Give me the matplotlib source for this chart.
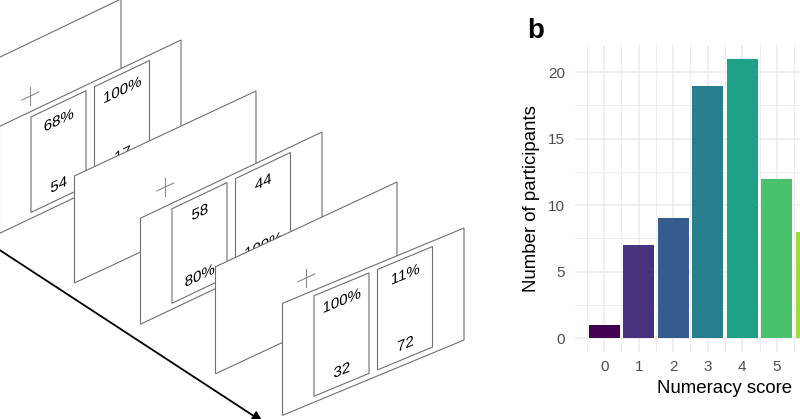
import numpy as np
import matplotlib
matplotlib.use("Agg")
import matplotlib.pyplot as plt
from matplotlib.patches import Polygon, PathPatch
from matplotlib.textpath import TextPath
from matplotlib.font_manager import FontProperties
from matplotlib.transforms import Affine2D

# numeracy histogram (panel b)
numeracy_scores = [0, 1, 2, 3, 4, 5, 6]
participant_counts = [1, 7, 9, 19, 21, 12, 8]
score_ticks = [0, 1, 2, 3, 4, 5, 6, 7]
count_ticks = [0, 5, 10, 15, 20]

# task schematic (panel a): screens alternate fixation / choice
screen_kinds = ["fixation", "choice", "fixation", "choice", "fixation", "choice"]
card_tops = [None, ["68%", "100%"], None, ["58", "44"], None, ["100%", "11%"]]
card_bottoms = [None, ["54", "17"], None, ["80%", "100%"], None, ["32", "72"]]

font_name = "Liberation Sans"
line_grey = "#6f6f6f"
grid_grey = "#ebebeb"
tick_grey = "#4d4d4d"

# screen geometry, pixels (right edge x, top-right y, skew slope, height)
screen_right = [121, 181, 256, 322, 397, 464]
screen_top = [-1, 40, 91, 132, 182, 228]
screen_slope = [0.48, 0.476, 0.468, 0.475, 0.467, 0.415]
screen_height = [107, 107, 107, 106, 107, 112]
screen_width = 181.5
card_margin = 31.5
card_width = 55
card_gap = 8.5


def skewed_text(ax, s, xc, yc, slope, size=15, zorder=1):
  path = TextPath((0, 0), s, size=size, prop=FontProperties(family=font_name))
  verts = path.vertices
  u_c = (verts[:, 0].min() + verts[:, 0].max()) / 2
  v_c = (verts[:, 1].min() + verts[:, 1].max()) / 2
  # y axis points down, glyph baselines follow the screen slope
  skew = Affine2D(np.array([[1, 0, 0], [-slope, -1, 0], [0, 0, 1]], dtype=float))
  trans = Affine2D().translate(-u_c, -v_c) + skew + Affine2D().translate(xc, yc)
  ax.add_patch(PathPatch(trans.transform_path(path), facecolor="black",
                         edgecolor="none", lw=0, zorder=zorder))


def draw_screen(ax, i):
  right = screen_right[i]
  top = screen_top[i]
  s = screen_slope[i]
  h = screen_height[i]
  left = right - screen_width
  z = 1 + i

  def y_top(x):
    return top + s * (right - x)

  corners = [(left, y_top(left)), (right, top), (right, top + h), (left, y_top(left) + h)]
  ax.add_patch(Polygon(corners, closed=True, facecolor="white",
                       edgecolor=line_grey, lw=0.8, zorder=z))

  if screen_kinds[i] == "fixation":
    cx = left + screen_width / 2
    cy = y_top(cx) + h / 2
    arm = 8.5
    ax.plot([cx - arm, cx + arm], [cy + arm * s, cy - arm * s], color="#8a8a8a", lw=0.8, zorder=z + 0.1)
    ax.plot([cx, cx], [cy - 9, cy + 9], color="#8a8a8a", lw=0.8, zorder=z + 0.1)
    return

  for k in range(2):
    x0 = left + card_margin + k * (card_width + card_gap)
    x1 = x0 + card_width
    card = [(x0, y_top(x0) + 5.5), (x1, y_top(x1) + 5.5),
            (x1, y_top(x1) + h - 6), (x0, y_top(x0) + h - 6)]
    ax.add_patch(Polygon(card, closed=True, facecolor="white",
                         edgecolor=line_grey, lw=0.8, zorder=z + 0.1))
    xc = (x0 + x1) / 2
    skewed_text(ax, card_tops[i][k], xc, y_top(xc) + 5.5 + 16, s, zorder=z + 0.2)
    skewed_text(ax, card_bottoms[i][k], xc, y_top(xc) + h - 6 - 15, s, zorder=z + 0.2)


fig = plt.figure(figsize=(8, 4.19), dpi=100)

# panel a: pixel coordinates over the whole figure
ax0 = fig.add_axes([0, 0, 1, 1])
ax0.set_xlim(0, 800)
ax0.set_ylim(419, 0)
ax0.axis("off")
for i in range(len(screen_kinds)):
  draw_screen(ax0, i)
ax0.annotate("", xy=(263, 422), xytext=(-5, 247), annotation_clip=False,
             arrowprops=dict(arrowstyle="-|>", color="black", lw=1.3,
                             mutation_scale=16, shrinkA=0, shrinkB=0))

# panel b: histogram, right part falls outside the canvas
ax = fig.add_axes([575 / 800, 67 / 419, 300 / 800, 307 / 419])
colors = plt.cm.viridis(np.linspace(0, 1, len(score_ticks)))
ax.bar(numeracy_scores, participant_counts, width=0.9,
       color=colors[:len(numeracy_scores)], zorder=2)
ax.set_xlim(-0.845, 7.845)
ax.set_ylim(-1.05, 22.05)
ax.set_xticks(score_ticks)
ax.set_yticks(count_ticks)
ax.set_xticks(np.arange(-0.5, 8, 1), minor=True)
ax.set_yticks([2.5, 7.5, 12.5, 17.5], minor=True)
ax.grid(True, which="major", color=grid_grey, lw=1.1, zorder=0)
ax.grid(True, which="minor", color=grid_grey, lw=0.6, zorder=0)
for spine in ax.spines.values():
  spine.set_visible(False)
ax.tick_params(which="both", length=0)
ax.tick_params(axis="y", pad=7, labelsize=11, labelcolor=tick_grey)
ax.tick_params(axis="x", pad=6, labelsize=11, labelcolor=tick_grey)
for lbl in ax.get_xticklabels() + ax.get_yticklabels():
  lbl.set_fontfamily(font_name)
# tick labels past the canvas edge are cropped away in the reference
for tick, lbl in zip(score_ticks, ax.get_xticklabels()):
  if tick > 5:
    lbl.set_visible(False)
ax.set_xlabel("Numeracy score", fontsize=13.4, family=font_name, labelpad=4)
ax.set_ylabel("Number of participants", fontsize=13.4, family=font_name, labelpad=6)

fig.text(527 / 800, 1 - 38 / 419, "b", fontsize=20, fontweight="bold", family=font_name)

fig.savefig("out.png", dpi=100)
